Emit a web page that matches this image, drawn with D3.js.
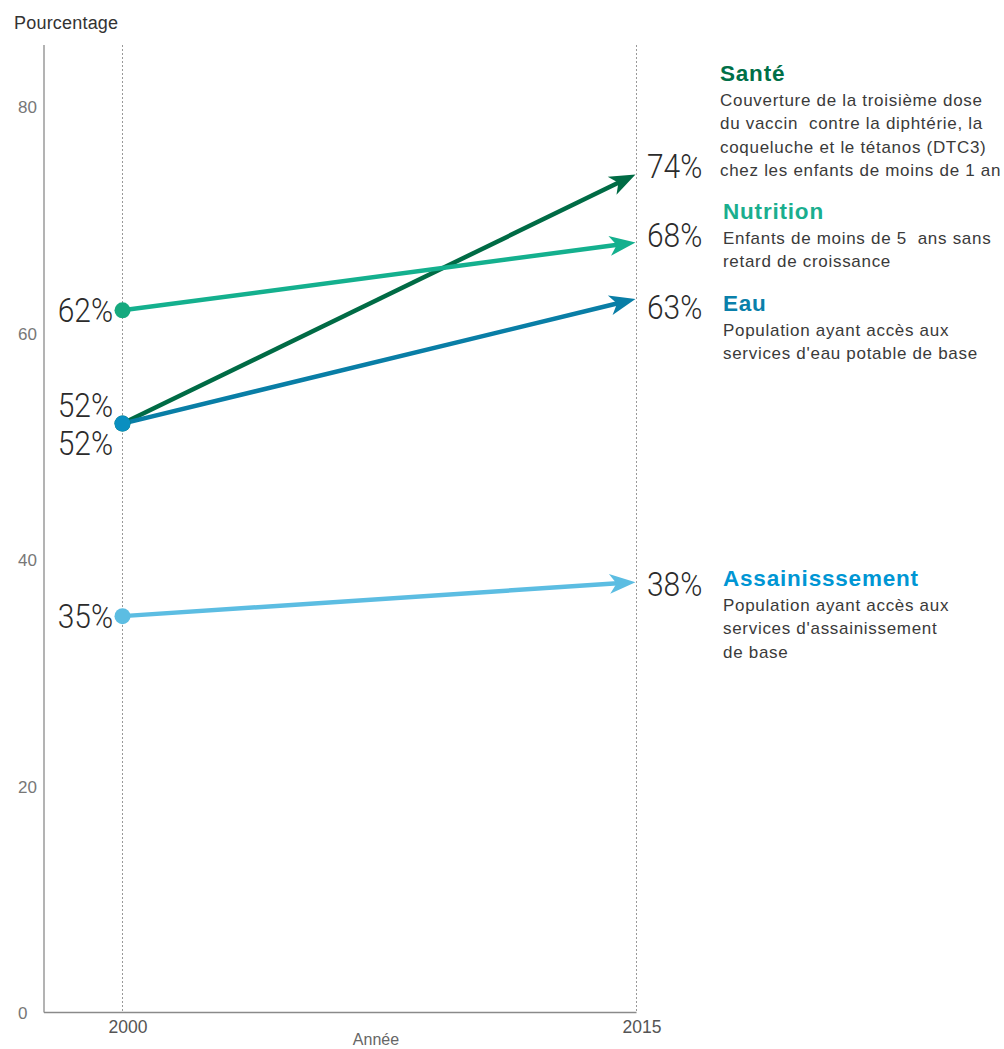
<!DOCTYPE html>
<html lang="fr">
<head>
<meta charset="utf-8">
<script src="https://cdn.jsdelivr.net/npm/d3@7"></script>
<style>
  html, body { margin: 0; padding: 0; background: #fff; }
  svg { display: block; }
  .tick text { font-family: "Liberation Sans", Arial, sans-serif; }
</style>
</head>
<body>
<svg id="chart" width="1004" height="1049"></svg>
<script>
// ---- data ----
const years = [2000, 2015];
const seriesNames = ["Santé", "Nutrition", "Eau", "Assainisssement"];
const values2000 = [52, 62, 52, 35];
const values2015 = [74, 68, 63, 38];
const descriptions = [
  ["Couverture de la troisième dose", "du vaccin  contre la diphtérie, la", "coqueluche et le tétanos (DTC3)", "chez les enfants de moins de 1 an"],
  ["Enfants de moins de 5  ans sans", "retard de croissance"],
  ["Population ayant accès aux", "services d'eau potable de base"],
  ["Population ayant accès aux", "services d'assainissement", "de base"]
];
const yTicks = [0, 20, 40, 60, 80];
const yAxisTitle = "Pourcentage";
const xAxisTitle = "Année";

// ---- styling ----
const lineColors  = ["#006b45", "#14b08e", "#097ea6", "#5cbde2"];
const dotColors   = ["#006b45", "#16a97e", "#0a8fc0", "#5cbde2"];
const titleColors = ["#006f48", "#1aae8e", "#0a80aa", "#0096d4"];
// vertical nudges so stacked/adjacent value labels don't collide
const leftNudge  = [-19, 0, 19, 0];
const rightNudge = [-8, -7, 8, 2];
// baseline of each description block title
const blockTitleY = [81, 219, 311, 586];
const drawOrder = [0, 1, 2, 3];

const svg = d3.select("#chart");
const x = d3.scaleLinear().domain([2000, 2015]).range([122.5, 636.5]);
const y = d3.scaleLinear().domain([0, 80]).range([1012.5, 106.5]);
const plotTop = 45;

// guide lines at each year
svg.append("g").selectAll("line").data(years).join("line")
  .attr("x1", d => x(d)).attr("x2", d => x(d))
  .attr("y1", plotTop).attr("y2", y(0))
  .attr("stroke", "#999").attr("stroke-width", 1)
  .attr("stroke-dasharray", "2,2");

// axes
svg.append("line")
  .attr("x1", 44).attr("x2", 44).attr("y1", plotTop).attr("y2", y(0))
  .attr("stroke", "#8a8a8a").attr("stroke-width", 1.3);
svg.append("line")
  .attr("x1", 44).attr("x2", x(2015)).attr("y1", y(0)).attr("y2", y(0))
  .attr("stroke", "#8a8a8a").attr("stroke-width", 1.3);

const yAxis = svg.append("g")
  .attr("transform", "translate(18,0)")
  .call(d3.axisLeft(y).tickValues(yTicks).tickSize(0).tickPadding(0));
yAxis.select(".domain").remove();
yAxis.selectAll("text")
  .attr("text-anchor", "start").attr("x", 0).attr("dy", "0.36em")
  .attr("fill", "#777").style("font-size", "17px");

const xAxis = svg.append("g")
  .attr("transform", `translate(5,${y(0)})`)
  .call(d3.axisBottom(x).tickValues(years).tickFormat(d3.format("d")).tickSize(0).tickPadding(0));
xAxis.select(".domain").remove();
xAxis.selectAll("text")
  .attr("y", 20).attr("dy", 0)
  .attr("fill", "#555").style("font-size", "17.5px");

svg.append("text")
  .attr("x", 14).attr("y", 29)
  .attr("fill", "#333")
  .style("font-family", "Liberation Sans, Arial, sans-serif")
  .style("font-size", "18px")
  .style("letter-spacing", "0.2px")
  .text(yAxisTitle);
svg.append("text")
  .attr("x", 376).attr("y", 1045).attr("text-anchor", "middle")
  .attr("fill", "#666")
  .style("font-family", "Liberation Sans, Arial, sans-serif")
  .style("font-size", "16px")
  .text(xAxisTitle);

// ---- arrows ----
const headLen = 26, headHalf = 10, notch = 7;
const arrows = svg.append("g");
drawOrder.forEach(i => {
  const x0 = x(years[0]), y0 = y(values2000[i]);
  const x1 = x(years[1]) - 1, y1 = y(values2015[i]);
  const dx = x1 - x0, dy = y1 - y0, len = Math.hypot(dx, dy);
  const ux = dx / len, uy = dy / len, px = -uy, py = ux;
  const g = arrows.append("g");
  // shaft stops inside the head so the tip stays sharp
  g.append("line")
    .attr("x1", x0).attr("y1", y0)
    .attr("x2", x1 - ux * (headLen - notch - 1)).attr("y2", y1 - uy * (headLen - notch - 1))
    .attr("stroke", lineColors[i]).attr("stroke-width", 4.5);
  const bx = x1 - ux * headLen, by = y1 - uy * headLen;
  const nx = x1 - ux * (headLen - notch), ny = y1 - uy * (headLen - notch);
  const pts = [
    [x1, y1],
    [bx + px * headHalf, by + py * headHalf],
    [nx, ny],
    [bx - px * headHalf, by - py * headHalf]
  ];
  g.append("path")
    .attr("d", d3.line()(pts) + "Z")
    .attr("fill", lineColors[i]);
});

// start dots
svg.append("g").selectAll("circle").data(drawOrder).join("circle")
  .attr("cx", x(years[0]))
  .attr("cy", i => y(values2000[i]))
  .attr("r", 8)
  .attr("fill", i => dotColors[i]);

// ---- value labels ----
const bigFont = "Roboto, 'Liberation Sans', sans-serif";
const labels = svg.append("g")
  .attr("fill", "#2b2b2b")
  .style("font-family", bigFont)
  .style("font-weight", 300)
  .style("font-size", "34px");

seriesNames.forEach((name, i) => {
  const yl = y(values2000[i]) + leftNudge[i] + 12;
  labels.append("text")
    .attr("transform", `translate(113,${yl}) scale(0.88,1)`)
    .attr("text-anchor", "end")
    .text(values2000[i] + "%");
  const yr = y(values2015[i]) + rightNudge[i] + 12;
  labels.append("text")
    .attr("transform", `translate(647,${yr}) scale(0.88,1)`)
    .attr("text-anchor", "start")
    .text(values2015[i] + "%");
});

// ---- description blocks ----
const blocks = svg.append("g")
  .style("font-family", "Liberation Sans, Arial, sans-serif");
seriesNames.forEach((name, i) => {
  const bx = i === 0 ? 720 : 723;
  blocks.append("text")
    .attr("x", bx).attr("y", blockTitleY[i])
    .attr("fill", titleColors[i])
    .style("font-weight", 700).style("font-size", "22.5px")
    .style("letter-spacing", "0.8px")
    .text(name);
  descriptions[i].forEach((line, k) => {
    blocks.append("text")
      .attr("x", bx).attr("y", blockTitleY[i] + 25 + k * 23.4)
      .attr("fill", "#3a3a3a")
      .style("font-size", "17px")
      .style("letter-spacing", "0.7px")
      .style("white-space", "pre")
      .text(line);
  });
});
</script>
</body>
</html>
